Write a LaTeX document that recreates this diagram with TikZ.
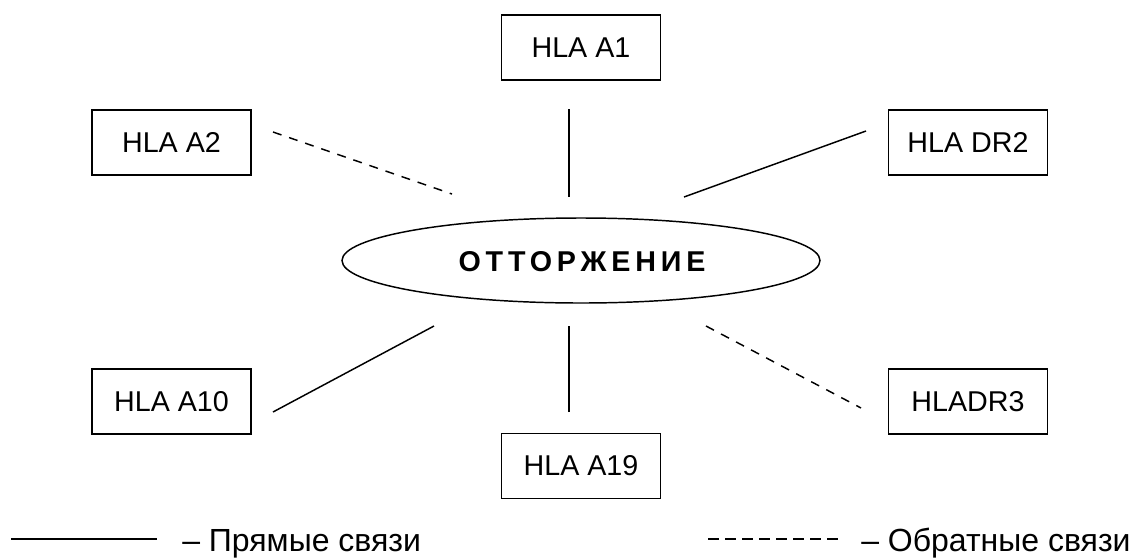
\documentclass[tikz,border=0pt]{standalone}
\usepackage{fontspec}
\setmainfont{Liberation Sans}
\newfontfamily\ellfont[LetterSpace=17]{Liberation Sans}
\usetikzlibrary{shapes.geometric}
\tikzset{
  box/.style={draw, line width=1.1pt, rectangle, inner sep=0pt,
    minimum width=119.5pt, minimum height=48.75pt,
    font=\fontsize{21.5}{24}\selectfont},
  oval/.style={draw, line width=1.1pt, ellipse, inner sep=0pt,
    minimum width=358.5pt, minimum height=63.75pt},
  direct/.style={line width=1.1pt},
  reverse/.style={line width=1.1pt, dash pattern=on 6.75pt off 6pt},
  legtext/.style={anchor=base west, inner sep=0pt, font=\fontsize{24}{28}\selectfont}
}
\begin{document}
\begin{tikzpicture}[x=0.75pt, y=-0.75pt]
\useasboundingbox (0,0) rectangle (1136,558);
% nodes
\node[box] (a1) at (581,47.5) {HLA A1};
\node[box] (a2) at (171.5,142.5) {HLA A2};
\node[box] (dr2) at (968,142.5) {HLA DR2};
\node[box] (a10) at (171.5,401.5) {HLA A10};
\node[box] (a19) at (581,466) {HLA A19};
\node[box] (dr3) at (968,401.5) {HLADR3};
\node[oval] (rej) at (581,260.5) {};
\node[inner sep=0pt, font=\ellfont\bfseries\fontsize{21.5}{24}\selectfont] (rejt) at (582,261.5) {ОТТОРЖЕНИЕ};
% connector ends
\coordinate (a1s) at (569,109);  \coordinate (a1e) at (569,197);
\coordinate (a2s) at (273,132);  \coordinate (a2e) at (452,194);
\coordinate (dr2s) at (866,131); \coordinate (dr2e) at (684,197);
\coordinate (a10s) at (273,412); \coordinate (a10e) at (434,326);
\coordinate (a19s) at (569,412); \coordinate (a19e) at (569,326);
\coordinate (dr3s) at (861,408); \coordinate (dr3e) at (706,326);
% connectors
\draw[direct] (a1s) -- (a1e);
\draw[reverse] (a2s) -- (a2e);
\draw[direct] (dr2s) -- (dr2e);
\draw[direct] (a10s) -- (a10e);
\draw[direct] (a19s) -- (a19e);
\draw[reverse] (dr3e) -- (dr3s);
% legend
\coordinate (l1s) at (11,539);  \coordinate (l1e) at (157,539);
\coordinate (l2s) at (708,539); \coordinate (l2e) at (842,539);
\draw[direct] (l1s) -- (l1e);
\draw[line width=1.1pt, dash pattern=on 8.25pt off 4.5pt] (l2s) -- (l2e);
\node[legtext] (lt1) at (182,551) {– Прямые связи};
\node[legtext] (lt2) at (861,551) {– Обратные связи};
\end{tikzpicture}
\end{document}
